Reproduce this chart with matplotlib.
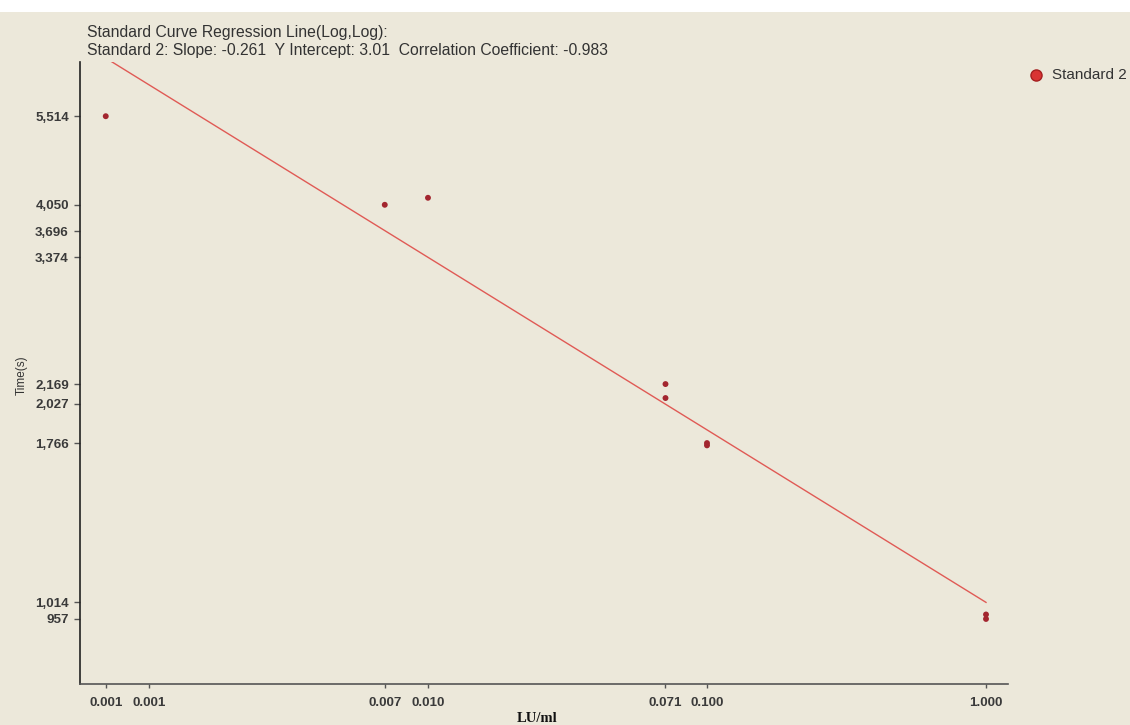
import numpy as np
import matplotlib
matplotlib.use("Agg")
import matplotlib.pyplot as plt
from matplotlib.ticker import NullLocator, FixedLocator, FixedFormatter

# data
conc = [0.0007, 0.007, 0.01, 0.071, 0.071, 0.1, 0.1, 1.0, 1.0]
time_s = [5514, 4050, 4150, 2169, 2066, 1766, 1752, 957, 972]

x_ticks = [0.0007, 0.001, 0.007, 0.01, 0.071, 0.1, 1.0]
x_labels = ["0.001", "0.001", "0.007", "0.010", "0.071", "0.100", "1.000"]
y_ticks = [957, 1014, 1766, 2027, 2169, 3374, 3696, 4050, 5514]
y_labels = ["957", "1,014", "1,766", "2,027", "2,169", "3,374", "3,696", "4,050", "5,514"]

# regression line (log10 y = intercept + slope * log10 x)
slope = -0.261
intercept = 3.006
title_lines = ["Standard Curve Regression Line(Log,Log):",
               "Standard 2: Slope: -0.261  Y Intercept: 3.01  Correlation Coefficient: -0.983"]

bg = "#ece8da"
plt.rcParams['font.family'] = ['Liberation Sans', 'DejaVu Sans']

fig = plt.figure(figsize=(11.3, 7.25), dpi=100, facecolor=bg)
# white strip on top
fig.patches.append(plt.Rectangle((0, 1 - 12 / 725), 1, 12 / 725, transform=fig.transFigure,
                                 facecolor="white", edgecolor="none", zorder=0))
ax = fig.add_axes([80 / 1130, 1 - 684 / 725, (1008 - 80) / 1130, (684 - 62) / 725])
ax.set_facecolor(bg)

ax.set_xscale("log")
ax.set_yscale("log")

xl = np.array([min(conc), max(conc)])
ax.plot(xl, 10 ** (intercept + slope * np.log10(xl)), color="#e05a55", lw=1.0, zorder=2)
ax.scatter(conc, time_s, s=18, color="#a3262f", edgecolors="none", zorder=3)

ax.set_xlim(0.000566, 1.199)
ax.set_ylim(763, 6660)

ax.xaxis.set_major_locator(FixedLocator(x_ticks))
ax.xaxis.set_major_formatter(FixedFormatter(x_labels))
ax.yaxis.set_major_locator(FixedLocator(y_ticks))
ax.yaxis.set_major_formatter(FixedFormatter(y_labels))
ax.xaxis.set_minor_locator(NullLocator())
ax.yaxis.set_minor_locator(NullLocator())

for lab in ax.get_xticklabels() + ax.get_yticklabels():
    lab.set_fontweight("bold")
    lab.set_color("#3a3a3a")
    lab.set_fontsize(9.6)
ax.tick_params(axis="x", length=3, width=1, color="#555555", pad=6)
ax.tick_params(axis="y", length=4, width=1, color="#555555", pad=4)

ax.spines["top"].set_visible(False)
ax.spines["right"].set_visible(False)
ax.spines["left"].set_color("#222222")
ax.spines["bottom"].set_color("#555555")
ax.spines["left"].set_linewidth(1.2)
ax.spines["bottom"].set_linewidth(1.2)

fig.text(537 / 1130, 1 - 718 / 725, "LU/ml", family="Liberation Serif", fontweight="bold",
         fontsize=10.5, ha="center", va="center", color="#111111")
fig.text(22 / 1130, 1 - 375 / 725, "Time(s)", rotation=90, fontsize=8.5, ha="center",
         va="center", color="#333333")

fig.text(87 / 1130, 1 - 33 / 725, title_lines[0], fontsize=11.3, color="#333333", va="center")
fig.text(87 / 1130, 1 - 50 / 725, title_lines[1], fontsize=11.3, color="#333333", va="center")

# legend
fig.lines.append(plt.Line2D([1036 / 1130], [1 - 75 / 725], transform=fig.transFigure,
                            marker="o", markersize=8, color="#d93434",
                            markeredgecolor="#a52020", linestyle="none"))
fig.text(1052 / 1130, 1 - 75 / 725, "Standard 2", fontsize=11, color="#333333", va="center")

fig.savefig("out.png", dpi=100, facecolor=bg)
